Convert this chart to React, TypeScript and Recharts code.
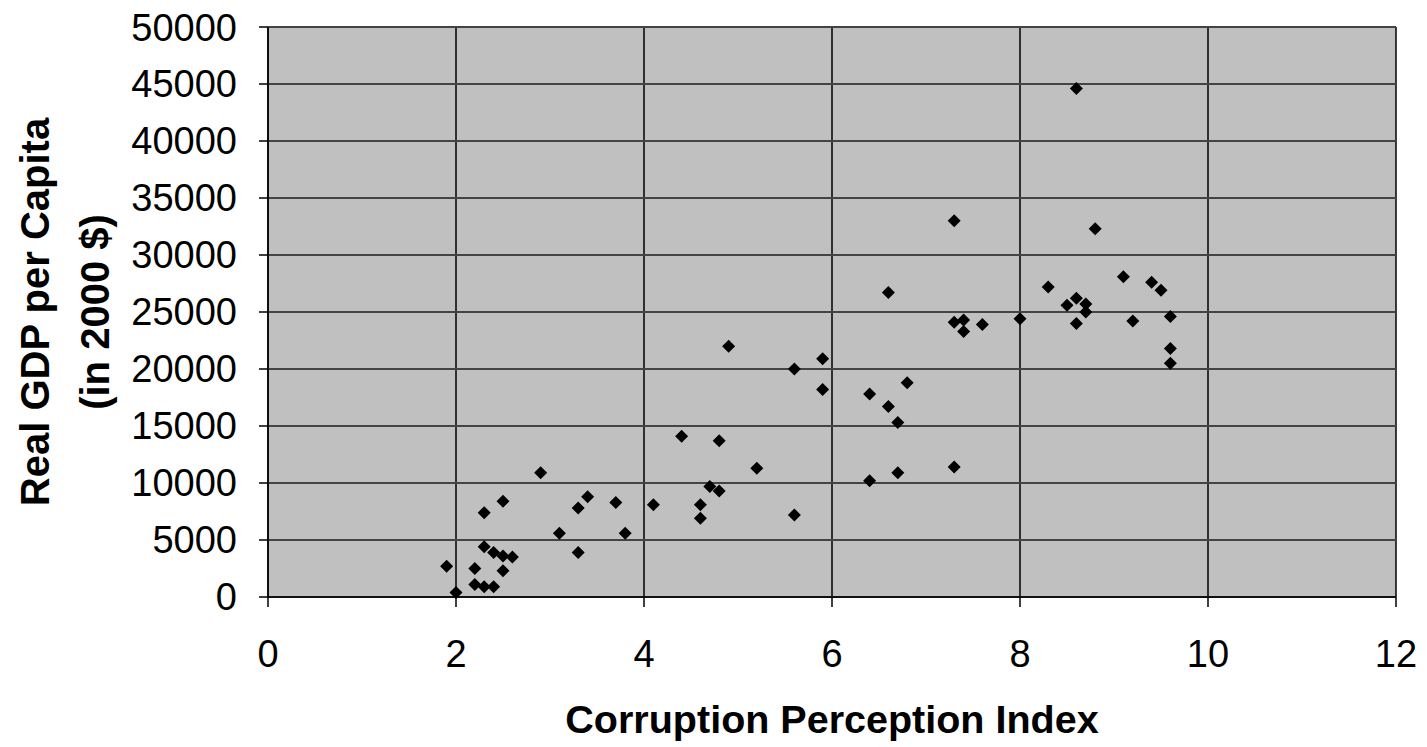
import React from 'react';
import { ScatterChart, Scatter, XAxis, YAxis, CartesianGrid } from 'recharts';

// Corruption Perception Index (x) vs real GDP per capita in 2000 $ (y)
const cpi = [
  1.9, 2.0, 2.2, 2.2, 2.3, 2.4, 2.3, 2.5, 2.3, 2.4, 2.5, 2.6, 2.5, 2.9, 3.1, 3.3,
  3.3, 3.4, 3.7, 3.8, 4.1, 4.4, 4.6, 4.6, 4.7, 4.8, 4.8, 4.9, 5.2, 5.6, 5.6, 5.9,
  5.9, 6.4, 6.4, 6.6, 6.6, 6.7, 6.7, 6.8, 7.3, 7.3, 7.3, 7.4, 7.4, 7.6, 8.0, 8.3,
  8.5, 8.6, 8.6, 8.6, 8.7, 8.7, 8.8, 9.1, 9.2, 9.4, 9.5, 9.6, 9.6, 9.6,
];
const gdp = [
  2700, 400, 2500, 1100, 900, 900, 7400, 8400, 4400, 3900, 3600, 3500, 2300, 10900, 5600, 7800,
  3900, 8800, 8300, 5600, 8100, 14100, 8100, 6900, 9700, 9300, 13700, 22000, 11300, 20000, 7200, 20900,
  18200, 17800, 10200, 16700, 26700, 15300, 10900, 18800, 33000, 24100, 11400, 24300, 23300, 23900, 24400, 27200,
  25600, 26200, 24000, 44600, 25700, 25000, 32300, 28100, 24200, 27600, 26900, 24600, 21800, 20500,
];
const xTicks = [0, 2, 4, 6, 8, 10, 12];
const yTicks = [0, 5000, 10000, 15000, 20000, 25000, 30000, 35000, 40000, 45000, 50000];

const points = cpi.map((x, i) => ({ x, y: gdp[i] }));

const FONT = '"Liberation Sans", Arial, Helvetica, sans-serif';

const Diamond = (props: any) => {
  const { cx, cy } = props;
  const r = 6.5;
  return <path d={`M${cx},${cy - r}L${cx + r},${cy}L${cx},${cy + r}L${cx - r},${cy}Z`} fill="#000" />;
};

const YLabel = (props: any) => {
  const vb = props.viewBox || {};
  const cy = vb.y + vb.height / 2;
  return (
    <g fontFamily={FONT} fontWeight="bold" fontSize={40} fill="#000">
      <text x={27} y={cy} transform={`rotate(-90 27 ${cy})`} textAnchor="middle" dominantBaseline="central">
        Real GDP per Capita
      </text>
      <text x={87} y={cy} transform={`rotate(-90 87 ${cy})`} textAnchor="middle" dominantBaseline="central">
        (in 2000 $)
      </text>
    </g>
  );
};

const XLabel = (props: any) => {
  const vb = props.viewBox || {};
  const cx = vb.x + vb.width / 2;
  return (
    <text x={cx} y={711} textAnchor="middle" dominantBaseline="central" fontFamily={FONT} fontWeight="bold" fontSize={39.5} fill="#000">
      Corruption Perception Index
    </text>
  );
};

export default function App() {
  return (
    <div style={{ background: '#fff' }}>
      <ScatterChart width={1411} height={739} margin={{ top: 19, right: 23, left: 0, bottom: 0 }}>
        <CartesianGrid fill="#c0c0c0" horizontal={false} vertical stroke="#000" strokeWidth={1.5} />
        <CartesianGrid fill="none" horizontal vertical={false} stroke="#444" strokeWidth={2} />
        <XAxis
          type="number"
          dataKey="x"
          domain={[0, 12]}
          ticks={xTicks}
          interval={0}
          height={150}
          tickSize={10}
          tickMargin={33}
          axisLine={{ stroke: '#000', strokeWidth: 1.5 }}
          tickLine={{ stroke: '#000', strokeWidth: 1.5 }}
          tick={{ fill: '#000', fontSize: 38, fontFamily: FONT }}
          label={<XLabel />}
        />
        <YAxis
          type="number"
          dataKey="y"
          domain={[0, 50000]}
          ticks={yTicks}
          interval={0}
          width={260}
          tickSize={9}
          tickMargin={22}
          axisLine={{ stroke: '#000', strokeWidth: 1.5 }}
          tickLine={{ stroke: '#000', strokeWidth: 1.5 }}
          tick={{ fill: '#000', fontSize: 38, fontFamily: FONT }}
          label={<YLabel />}
        />
        <Scatter data={points} shape={<Diamond />} isAnimationActive={false} />
      </ScatterChart>
    </div>
  );
}
